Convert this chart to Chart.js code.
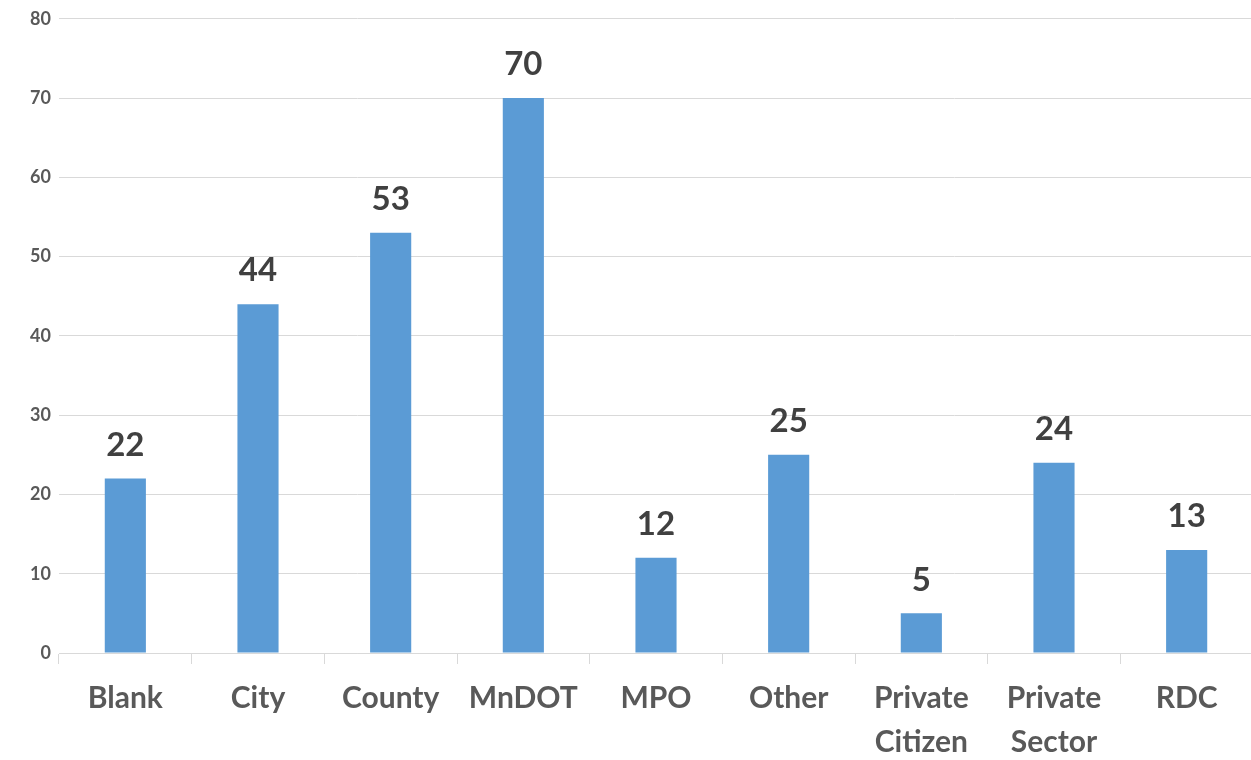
<!DOCTYPE html>
<html>
<head>
<meta charset="utf-8">
<script src="https://cdn.jsdelivr.net/npm/chart.js@4/dist/chart.umd.min.js"></script>
<style>
    html, body { margin: 0; padding: 0; background: #fff; }
    #wrap { width: 1251px; height: 760px; overflow: hidden; }
    #inner { width: 1253px; height: 760px; position: relative; }
</style>
</head>
<body>
<div id="wrap"><div id="inner"><canvas id="chart"></canvas></div></div>
<script>
// categories and counts
var categories = ['Blank', 'City', 'County', 'MnDOT', 'MPO', 'Other', ['Private', 'Citizen'], ['Private', 'Sector'], 'RDC'];
var counts = [22, 44, 53, 70, 12, 25, 5, 24, 13];
var yTicks = [0, 10, 20, 30, 40, 50, 60, 70, 80];

var fontFamily = 'Lato, "Open Sans", "Liberation Sans", sans-serif';

// draws the number above each bar, using the bar elements placed by the scales
var valueLabels = {
    id: 'valueLabels',
    afterDatasetsDraw: function (chart) {
        var ctx = chart.ctx;
        var meta = chart.getDatasetMeta(0);
        ctx.save();
        ctx.font = 'bold 33px ' + fontFamily;
        ctx.fillStyle = '#404040';
        ctx.textAlign = 'center';
        ctx.textBaseline = 'bottom';
        meta.data.forEach(function (bar, i) {
            ctx.fillText(counts[i], bar.x, bar.y - 17);
        });
        ctx.restore();
    }
};

new Chart(document.getElementById('chart').getContext('2d'), {
    type: 'bar',
    data: {
        labels: categories,
        datasets: [{
            data: counts,
            backgroundColor: '#5B9BD5',
            borderWidth: 0,
            barPercentage: 0.31,
            categoryPercentage: 1
        }]
    },
    options: {
        responsive: true,
        maintainAspectRatio: false,
        animation: false,
        layout: { padding: { top: 16, right: 0, left: 0, bottom: 0 } },
        plugins: {
            legend: { display: false },
            tooltip: { enabled: false }
        },
        scales: {
            x: {
                grid: {
                    color: '#D9D9D9',
                    lineWidth: 1,
                    drawOnChartArea: false,
                    drawTicks: true,
                    tickLength: 11
                },
                border: { color: '#D9D9D9', width: 1 },
                ticks: {
                    color: '#595959',
                    font: { family: fontFamily, size: 30, weight: 'bold', lineHeight: 1.45 },
                    padding: 13,
                    maxRotation: 0,
                    autoSkip: false
                },
                afterFit: function (scale) { scale.height = 107; }
            },
            y: {
                min: 0,
                max: 80,
                afterBuildTicks: function (scale) {
                    scale.ticks = yTicks.map(function (v) { return { value: v }; });
                },
                grid: { color: '#D9D9D9', lineWidth: 1, drawTicks: false },
                border: { display: false },
                ticks: {
                    color: '#595959',
                    font: { family: fontFamily, size: 18, weight: 'bold' },
                    padding: 8
                },
                afterFit: function (scale) { scale.width = 59; }
            }
        }
    },
    plugins: [valueLabels]
});
</script>
</body>
</html>
